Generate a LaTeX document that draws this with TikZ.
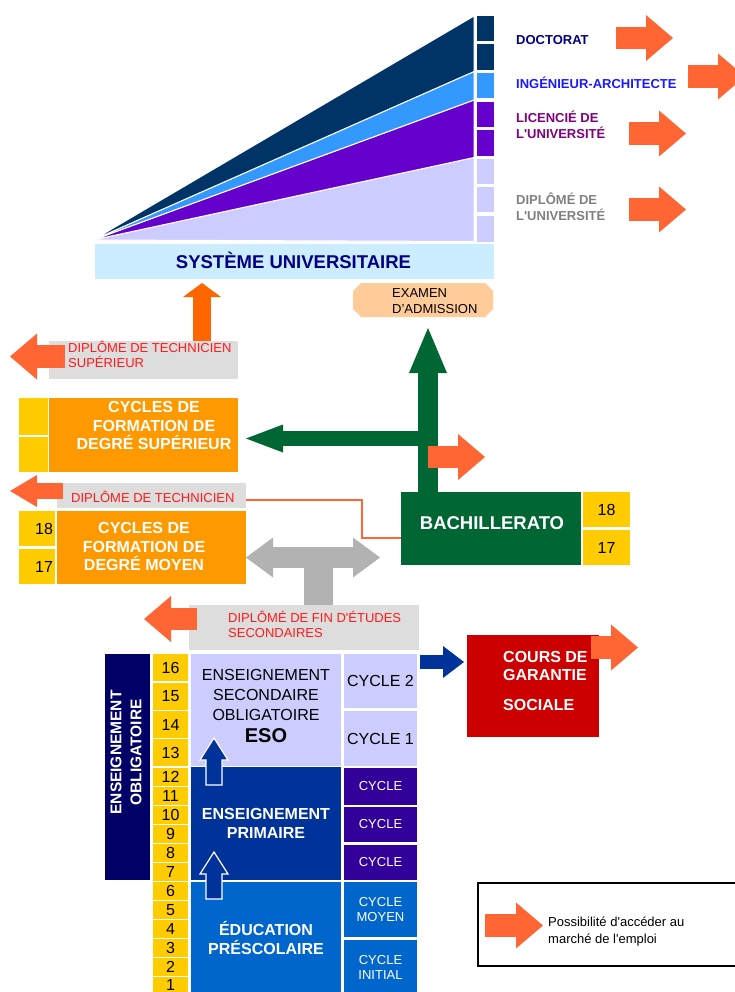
\documentclass[tikz,border=0pt]{standalone}
\usepackage{fontspec}
\setmainfont{Liberation Sans}
\usepackage{tikz}
\usetikzlibrary{arrows.meta,calc}
\definecolor{univnavy}{HTML}{003366}
\definecolor{univsky}{HTML}{3399FF}
\definecolor{univviolet}{HTML}{6600CC}
\definecolor{univlav}{HTML}{CCCCFF}
\definecolor{univbar}{HTML}{CCECFF}
\definecolor{txtnavy}{HTML}{000080}
\definecolor{txtblue}{HTML}{1A1AFF}
\definecolor{txtpurple}{HTML}{800080}
\definecolor{txtgray}{HTML}{808080}
\definecolor{emploicol}{HTML}{FF6633}
\definecolor{upor}{HTML}{FF6600}
\definecolor{diplgray}{HTML}{DDDDDD}
\definecolor{diplred}{HTML}{FF1A1A}
\definecolor{examcol}{HTML}{FFCC99}
\definecolor{cyclor}{HTML}{FF9900}
\definecolor{ageyel}{HTML}{FFCC00}
\definecolor{bachgreen}{HTML}{006633}
\definecolor{tgray}{HTML}{B2B2B2}
\definecolor{cgsred}{HTML}{CC0000}
\definecolor{primblue}{HTML}{003399}
\definecolor{obliblue}{HTML}{000066}
\definecolor{cycviolet}{HTML}{330099}
\definecolor{prescol}{HTML}{0066CC}

\begin{document}
\begin{tikzpicture}[x=1pt,y=-1pt,
  box/.style={anchor=north west,inner sep=0pt,outer sep=0pt},
  lbl/.style={anchor=west,inner sep=0pt},
  t13/.style={font=\fontsize{13}{15.5}\selectfont},
  t13b/.style={font=\fontsize{13}{16}\selectfont\bfseries},
  t16/.style={font=\fontsize{16}{19.5}\selectfont},
  t16b/.style={font=\fontsize{16}{18.5}\selectfont\bfseries},
  t18b/.style={font=\fontsize{18.5}{21}\selectfont\bfseries},
  wedge/.style={draw=white,line width=1pt},
  emploi/.style={draw=emploicol,line width=22.5pt,-{Triangle[length=27pt,width=46pt,line width=0pt]}},
  emploismall/.style={draw=emploicol,line width=16pt,-{Triangle[length=27pt,width=32pt,line width=0pt]}},
  uparr/.style={draw=upor,line width=18pt,-{Triangle[length=14pt,width=38pt,line width=0pt]}},
  greenup/.style={draw=bachgreen,line width=20pt,-{Triangle[length=45pt,width=38pt,line width=0pt]}},
  greenleft/.style={draw=bachgreen,line width=15pt,-{Triangle[length=37pt,width=28pt,line width=0pt]}},
  grayT/.style={draw=tgray,line width=21pt,{Triangle[length=27pt,width=40pt,line width=0pt]}-{Triangle[length=27pt,width=40pt,line width=0pt]}},
  bluearr/.style={draw=primblue,line width=14pt,-{Triangle[length=21pt,width=32pt,line width=0pt]}},
  thinor/.style={draw=emploicol,line width=2pt},
  upblock/.style={fill=primblue,draw=white,line width=1.2pt}]
  \useasboundingbox (0,0) rectangle (735,992);

  % university wedge
  \filldraw[wedge,fill=univlav] (93,240) -- (474,157.5) -- (474,241.5) -- cycle;
  \filldraw[wedge,fill=univviolet] (93,240) -- (474,100) -- (474,157.5) -- cycle;
  \filldraw[wedge,fill=univsky] (93,240) -- (474,71.5) -- (474,100) -- cycle;
  \filldraw[wedge,fill=univnavy] (93,240) -- (474,16) -- (474,71.5) -- cycle;
  \foreach \yt/\c in {15.7/univnavy,44.3/univnavy,72.7/univsky,101.7/univviolet,130/univviolet,158.7/univlav,186.7/univlav,216/univlav}
    \fill[\c] (476.5,\yt) rectangle ++(17.5,25.8);
  \node[box,fill=univbar,minimum width=399pt,minimum height=35pt] (univ) at (95,244) {};
  \node[t18b,text=txtnavy] (univtxt) at ($(univ.center)+(-1,-1.5)$) {SYSTÈME UNIVERSITAIRE};

  % diplomas
  \node[lbl,t13b,text=txtnavy] (doct) at (516,40) {DOCTORAT};
  \node[lbl,t13b,text=txtblue] (ingarch) at (516,83) {INGÉNIEUR-ARCHITECTE};
  \node[lbl,t13b,text=txtpurple,align=left] (lic) at (516,125) {LICENCIÉ DE\\L\textquotesingle UNIVERSITÉ};
  \node[lbl,t13b,text=txtgray,align=left] (dipu) at (516,207) {DIPLÔMÉ DE\\L\textquotesingle UNIVERSITÉ};
  \draw[emploi] (616,38) -- ++(57,0);
  \draw[emploi] (688,76.5) -- ++(57,0);
  \draw[emploi] (629,133.5) -- ++(57,0);
  \draw[emploi] (629,209.5) -- ++(57,0);

  % technicien superieur
  \node[box,fill=diplgray,minimum width=189pt,minimum height=38pt] (dts) at (49,341) {};
  \node[lbl,t13,text=diplred,align=left] (dtstxt) at ($(dts.west)+(19,-5.5)$) {DIPLÔME DE TECHNICIEN\\SUPÉRIEUR};
  \draw[emploi] (65,356.5) -- (10,356.5);
  \coordinate (dtsup) at (202,341);
  \draw[uparr,shorten >=4pt] (dtsup) -- (dtsup |- univ.south);

  \node[box,minimum width=140pt,minimum height=34pt] (examen) at (353,283) {};
  \fill[examcol] ([xshift=8pt]examen.north west) -- ([xshift=-8pt]examen.north east)
    -- ([yshift=-8pt]examen.north east) -- ([yshift=8pt]examen.south east)
    -- ([xshift=-8pt]examen.south east) -- ([xshift=8pt]examen.south west)
    -- ([yshift=8pt]examen.south west) -- ([yshift=-8pt]examen.north west) -- cycle;
  \node[lbl,t13,align=left] (examtxt) at ($(examen.west)+(39,1)$) {EXAMEN\\D’ADMISSION};

  \node[box,fill=ageyel,minimum width=29pt,minimum height=37pt] (sup2) at (19,398) {};
  \node[box,fill=ageyel,minimum width=29pt,minimum height=35pt] (sup1) at (19,437) {};
  \node[box,fill=cyclor,minimum width=189pt,minimum height=74pt] (supcyc) at (49,398) {};
  \node[t16b,text=white,align=center] (suptxt) at ($(supcyc.center)+(10.5,-9.5)$) {CYCLES DE\\FORMATION DE\\DEGRÉ SUPÉRIEUR};

  % bachillerato
  \node[box,fill=bachgreen,minimum width=180pt,minimum height=73pt] (bach) at (401,492) {};
  \node[t18b,text=white] (bachtxt) at ($(bach.center)+(1,-5.5)$) {BACHILLERATO};
  \node[box,fill=ageyel,minimum width=47pt,minimum height=35pt,t16] (bach18) at (583,492) {18};
  \node[box,fill=ageyel,minimum width=47pt,minimum height=35pt,t16] (bach17) at (583,530) {17};
  \coordinate (gv) at (428,492);
  \draw[greenup,shorten >=11pt] (gv) -- (gv |- examen.south);
  \coordinate (gh) at (428,438.5);
  \draw[greenleft,shorten >=8pt] (gh) -- (gh -| supcyc.east);
  \draw[emploi] (428,457) -- ++(57,0);

  % technicien
  \node[box,fill=diplgray,minimum width=189pt,minimum height=25pt] (dtech) at (57,483) {};
  \node[lbl,t13,text=diplred] (dtechtxt) at ($(dtech.west)+(14,1.5)$) {DIPLÔME DE TECHNICIEN};
  \draw[emploismall] (63,491) -- (10,491);
  \draw[thinor] ([yshift=-4.5pt]dtech.east) -- ++(116,0) |- ([yshift=-9.5pt]bach.west);

  \node[box,fill=ageyel,minimum width=36pt,minimum height=35pt,t16,text width=32pt,align=right] (moy18) at (19,511) {18};
  \node[box,fill=ageyel,minimum width=36pt,minimum height=35pt,t16,text width=32pt,align=right] (moy17) at (19,549) {17};
  \node[box,fill=cyclor,minimum width=189pt,minimum height=73pt] (moycyc) at (57,511) {};
  \node[t16b,text=white,align=center] (moytxt) at ($(moycyc.center)+(-7.5,-1)$) {CYCLES DE\\FORMATION DE\\DEGRÉ MOYEN};

  % fin d'etudes secondaires
  \node[box,fill=diplgray,minimum width=230pt,minimum height=45pt] (dfin) at (189,605) {};
  \node[lbl,t13,text=diplred,align=left] (dfintxt) at ($(dfin.west)+(39,-3)$) {DIPLÔMÉ DE FIN D\textquotesingle ÉTUDES\\SECONDAIRES};
  \draw[emploi] (197,619) -- (144,619);
  \coordinate (gt) at (318.5,557.5);
  \draw[tgray,line width=29pt] (gt) -- (gt |- dfin.north);
  \draw[grayT,shorten >=21pt] (gt -| moycyc.east) -- (gt -| bach.west);

  % ESO
  \node[box,fill=obliblue,minimum width=45pt,minimum height=226pt] (oblig) at (105,654) {};
  \node[rotate=90,font=\fontsize{15.5}{20}\selectfont\bfseries,text=white,align=center] (obligtxt) at ($(oblig.center)+(-1.5,-14.5)$) {ENSEIGNEMENT\\OBLIGATOIRE};
  \foreach \n/\yt in {16/654,15/682.5,14/711,13/739}
    \node[box,fill=ageyel,minimum width=35pt,minimum height=27pt,t16] (age\n) at (153,\yt) {\n};
  \foreach \n in {2,...,12}
    \node[box,fill=ageyel,minimum width=35pt,minimum height=17.5pt,t16] (age\n) at (153,{768+(12-\n)*19}) {\n};
  \node[box,fill=ageyel,minimum width=35pt,minimum height=15pt,t16] (age1) at (153,977) {1};

  \node[box,fill=univlav,minimum width=150pt,minimum height=112pt] (eso) at (191,654) {};
  \node[font=\fontsize{16}{20}\selectfont,align=center] (esotxt) at ($(eso.center)+(0,-3.5)$)
    {ENSEIGNEMENT\\SECONDAIRE\\OBLIGATOIRE\\[2pt]{\fontsize{20}{22}\selectfont\bfseries ESO}};
  \node[box,fill=univlav,minimum width=73pt,minimum height=54pt,t16] (c2) at (344,654) {CYCLE 2};
  \node[box,fill=univlav,minimum width=73pt,minimum height=55pt,t16] (c1) at (344,711) {CYCLE 1};

  \node[box,fill=cgsred,minimum width=132pt,minimum height=102pt] (cgs) at (467,635) {};
  \node[lbl,t16b,text=white,align=left] (cgstxt) at ($(cgs.west)+(36,-5.5)$) {COURS DE\\GARANTIE\\[11pt]SOCIALE};
  \coordinate (ba) at (420,662);
  \draw[bluearr,shorten >=3pt] (ba) -- (ba -| cgs.west);
  \draw[emploi] (591,647.5) -- ++(47,0);

  % primaire
  \node[box,fill=primblue,minimum width=150pt,minimum height=113pt,t16b,text=white,align=center] (prim) at (191,767) {ENSEIGNEMENT\\PRIMAIRE};
  \foreach \yt/\h [count=\i] in {768/37,807/35,845/35}
    \node[box,fill=cycviolet,minimum width=73pt,minimum height=\h pt,t13,text=white] (cprim\i) at (344,\yt) {CYCLE};

  % prescolaire
  \node[box,fill=prescol,minimum width=150pt,minimum height=112pt,t16b,text=white,align=center] (presc) at (191,882) {ÉDUCATION\\PRÉSCOLAIRE};
  \node[box,fill=prescol,minimum width=73pt,minimum height=55pt,font=\fontsize{13}{14.5}\selectfont,text=white,align=center] (cmoy) at (344,882) {CYCLE\\MOYEN};
  \node[box,fill=prescol,minimum width=73pt,minimum height=55pt,font=\fontsize{13}{14.5}\selectfont,text=white,align=center] (cinit) at (344,940) {CYCLE\\INITIAL};

  \foreach \yt in {738,852}
    \filldraw[upblock] (214,\yt) -- (228,{\yt+22}) -- (222,{\yt+22}) -- (222,{\yt+47})
      -- (206,{\yt+47}) -- (206,{\yt+22}) -- (200,{\yt+22}) -- cycle;

  % legend
  \node[box,draw=black,line width=1.5pt,minimum width=262pt,minimum height=83pt] (legende) at (478,883) {};
  \draw[emploi] (485,925.5) -- ++(58,0);
  \node[lbl,font=\fontsize{13}{17}\selectfont,align=left] (legtxt) at ($(legende.west)+(70,7)$) {Possibilité d\textquotesingle accéder au\\marché de l\textquotesingle emploi};
\end{tikzpicture}
\end{document}
